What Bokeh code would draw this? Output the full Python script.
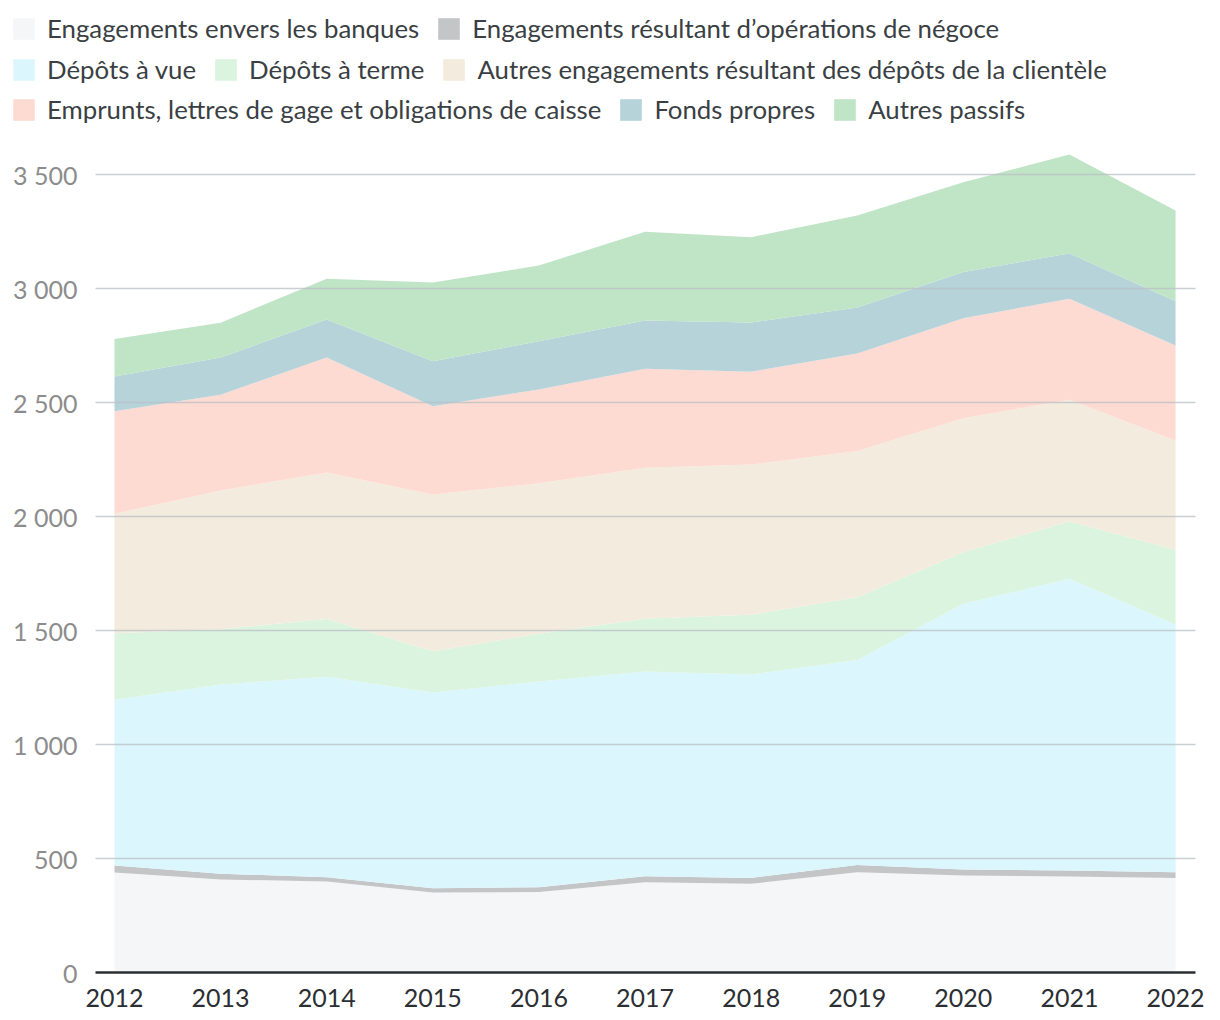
from bokeh.plotting import figure
from bokeh.layouts import column
from bokeh.models import ColumnDataSource, Legend, LegendItem, FixedTicker, Range1d
from bokeh.embed import file_html
from bokeh.resources import INLINE

years = [2012, 2013, 2014, 2015, 2016, 2017, 2018, 2019, 2020, 2021, 2022]
banques = [439, 408, 399, 351, 353, 396, 389, 440, 425, 421, 414]
negoce = [30, 25, 19, 19, 21, 26, 26, 32, 27, 26, 26]
depots_vue = [727, 830, 879, 858, 902, 898, 892, 899, 1165, 1280, 1086]
depots_terme = [292, 243, 253, 181, 210, 231, 262, 275, 226, 251, 328]
autres_engagements = [524, 608, 643, 687, 660, 663, 659, 641, 588, 534, 479]
emprunts = [450, 420, 504, 388, 411, 434, 407, 428, 439, 443, 417]
fonds_propres = [152, 163, 167, 197, 212, 212, 216, 202, 202, 199, 194]
autres_passifs = [165, 153, 179, 345, 332, 389, 374, 403, 394, 434, 398]

series_names = [
    "Engagements envers les banques",
    "Engagements résultant d’opérations de négoce",
    "Dépôts à vue",
    "Dépôts à terme",
    "Autres engagements résultant des dépôts de la clientèle",
    "Emprunts, lettres de gage et obligations de caisse",
    "Fonds propres",
    "Autres passifs",
]
colors = ["#f5f6f8", "#c4c5c7", "#dcf6fd", "#daf4df", "#f3ecde", "#fddad2", "#b6d3da", "#c0e4c6"]
y_ticks = [0, 500, 1000, 1500, 2000, 2500, 3000, 3500]
y_tick_labels = ["0", "500", "1 000", "1 500", "2 000", "2 500", "3 000", "3 500"]

keys = ["banques", "negoce", "vue", "terme", "autres", "emprunts", "fonds", "passifs"]
data = dict(year=years, banques=banques, negoce=negoce, vue=depots_vue, terme=depots_terme,
            autres=autres_engagements, emprunts=emprunts, fonds=fonds_propres, passifs=autres_passifs)
source = ColumnDataSource(data)

FONT = "Lato"
W = 1212

# ---- legend strip (separate figure so the legend may start left of the chart's frame)
leg = figure(width=W, height=130, output_backend="svg", toolbar_location=None,
             x_axis_type=None, y_axis_type=None,
             x_range=Range1d(2011.821, 2022.188), y_range=Range1d(100000, 100001),
             min_border=0, min_border_left=0, min_border_right=0,
             min_border_top=0, min_border_bottom=0)
leg.frame_align = False
leg.outline_line_color = None
leg.xgrid.visible = False
leg.ygrid.visible = False
# same stacked areas, kept outside this strip's visible range: they only feed the legend swatches
leg_renderers = leg.varea_stack(stackers=keys, x="year", color=colors, source=source)

rows = [([0, 1], 87), ([2, 3, 4], 46), ([5, 6, 7], 6)]
for idx, yoff in rows:
    items = [LegendItem(label=series_names[i], renderers=[leg_renderers[i]]) for i in idx]
    lg = Legend(items=items, orientation="horizontal", location=(10, yoff),
                glyph_width=27, glyph_height=27, label_standoff=10, spacing=16,
                padding=0, margin=0, border_line_color=None, background_fill_alpha=0,
                label_text_font=FONT, label_text_font_size="25.8px", label_text_color="#3a3f44",
                label_height=27)
    leg.add_layout(lg, "center")

# ---- main chart
p = figure(width=W, height=886, output_backend="svg", toolbar_location=None,
           x_range=Range1d(2011.821, 2022.188), y_range=Range1d(0, 3693),
           min_border_left=95, min_border_right=17, min_border_top=0, min_border_bottom=44)
p.frame_align = False
p.outline_line_color = None

p.varea_stack(stackers=keys, x="year", color=colors, source=source)

p.xgrid.visible = False
p.ygrid.ticker = FixedTicker(ticks=y_ticks)
p.ygrid.grid_line_color = "#b9bfc5"
p.ygrid.grid_line_alpha = 0.75
p.ygrid.grid_line_width = 1.5
p.ygrid.level = "overlay"

p.yaxis.ticker = FixedTicker(ticks=y_ticks)
p.yaxis.major_label_overrides = {t: l for t, l in zip(y_ticks, y_tick_labels)}
p.yaxis.axis_line_color = None
p.yaxis.major_tick_line_color = None
p.yaxis.minor_tick_line_color = None
p.yaxis.major_label_text_font = FONT
p.yaxis.major_label_text_font_size = "25px"
p.yaxis.major_label_text_color = "#8c8c8c"
p.yaxis.major_label_standoff = 12

p.xaxis.ticker = FixedTicker(ticks=years)
p.xaxis.axis_line_color = "#2b2f33"
p.xaxis.axis_line_width = 2.5
p.xaxis.major_tick_line_color = None
p.xaxis.minor_tick_line_color = None
p.xaxis.major_label_text_font = FONT
p.xaxis.major_label_text_font_size = "25px"
p.xaxis.major_label_text_color = "#2b2f33"
p.xaxis.major_label_standoff = 10

layout = column(leg, p, spacing=0)
open("out.html", "w").write(file_html(layout, INLINE))
